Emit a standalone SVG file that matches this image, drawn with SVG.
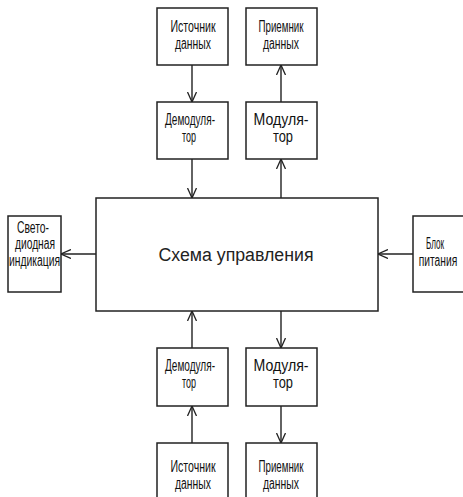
<svg xmlns="http://www.w3.org/2000/svg" width="463" height="497" viewBox="0 0 463 497">
<style>
.b{fill:#fff;stroke:#222;stroke-width:1.5}
.c{fill:none;stroke:#222;stroke-width:1.4}
.t{font-family:"Liberation Sans Narrow","Liberation Sans",Arial,sans-serif;font-size:16px;fill:#111;text-anchor:middle}
.m{font-family:"Liberation Sans",Arial,sans-serif;font-size:18px;fill:#222;text-anchor:middle}
</style>
<defs>
<marker id="a" viewBox="0 0 10 10" refX="10" refY="5" markerWidth="10" markerHeight="10" markerUnits="userSpaceOnUse" orient="auto">
<path d="M0,0.5 L10,5 L0,9.5" fill="none" stroke="#222" stroke-width="1.3"/>
</marker>
</defs>
<rect width="463" height="497" fill="#fff"/>
<g id="connectors">
<line class="c" x1="192" y1="65" x2="192" y2="102" marker-end="url(#a)"/>
<line class="c" x1="192" y1="159" x2="192" y2="198" marker-end="url(#a)"/>
<line class="c" x1="281" y1="102" x2="281" y2="65" marker-end="url(#a)"/>
<line class="c" x1="281" y1="198" x2="281" y2="159" marker-end="url(#a)"/>
<line class="c" x1="96" y1="254" x2="61" y2="254" marker-end="url(#a)"/>
<line class="c" x1="413" y1="254" x2="378" y2="254" marker-end="url(#a)"/>
<line class="c" x1="192" y1="348" x2="192" y2="311" marker-end="url(#a)"/>
<line class="c" x1="192" y1="443" x2="192" y2="406" marker-end="url(#a)"/>
<line class="c" x1="281" y1="311" x2="281" y2="348" marker-end="url(#a)"/>
<line class="c" x1="281" y1="406" x2="281" y2="443" marker-end="url(#a)"/>
</g>
<g id="main"><rect class="b" x="96" y="198" width="282" height="113"/>
<text class="m" x="236" y="261" textLength="155" lengthAdjust="spacingAndGlyphs">Схема управления</text></g>
<g id="src-top"><rect class="b" x="157" y="8" width="71" height="57"/>
<text class="t" x="193" y="32" textLength="45" lengthAdjust="spacingAndGlyphs">Источник</text>
<text class="t" x="193" y="49" textLength="36" lengthAdjust="spacingAndGlyphs">данных</text></g>
<g id="rcv-top"><rect class="b" x="246" y="8" width="71" height="57"/>
<text class="t" x="281" y="32" textLength="45" lengthAdjust="spacingAndGlyphs">Приемник</text>
<text class="t" x="281" y="49" textLength="36" lengthAdjust="spacingAndGlyphs">данных</text></g>
<g id="demod-top"><rect class="b" x="157" y="102" width="71" height="57"/>
<text class="t" x="190" y="125" textLength="50" lengthAdjust="spacingAndGlyphs">Демодуля-</text>
<text class="t" x="189" y="142" textLength="14" lengthAdjust="spacingAndGlyphs">тор</text></g>
<g id="mod-top"><rect class="b" x="246" y="102" width="71" height="57"/>
<text class="t" x="281" y="125" textLength="55" lengthAdjust="spacingAndGlyphs">Модуля-</text>
<text class="t" x="283" y="142" textLength="20" lengthAdjust="spacingAndGlyphs">тор</text></g>
<g id="led"><rect class="b" x="8" y="216" width="53" height="76"/>
<text class="t" x="33" y="233" textLength="32" lengthAdjust="spacingAndGlyphs">Свето-</text>
<text class="t" x="35" y="249" textLength="40" lengthAdjust="spacingAndGlyphs">диодная</text>
<text class="t" x="34.5" y="266" textLength="51" lengthAdjust="spacingAndGlyphs">индикация</text></g>
<g id="power"><path class="b" d="M464,216 H413 V292 H464"/>
<text class="t" x="435" y="249" textLength="18" lengthAdjust="spacingAndGlyphs">Блок</text>
<text class="t" transform="translate(438,266) scale(0.64,1)" x="0" y="0">питания</text></g>
<g id="demod-bot"><rect class="b" x="157" y="348" width="71" height="58"/>
<text class="t" x="190" y="371" textLength="50" lengthAdjust="spacingAndGlyphs">Демодуля-</text>
<text class="t" x="189" y="388" textLength="14" lengthAdjust="spacingAndGlyphs">тор</text></g>
<g id="mod-bot"><rect class="b" x="246" y="348" width="71" height="58"/>
<text class="t" x="281" y="371" textLength="55" lengthAdjust="spacingAndGlyphs">Модуля-</text>
<text class="t" x="283" y="388" textLength="20" lengthAdjust="spacingAndGlyphs">тор</text></g>
<g id="src-bot"><path class="b" d="M157,498 V443 H228 V498"/>
<text class="t" x="193" y="472" textLength="45" lengthAdjust="spacingAndGlyphs">Источник</text>
<text class="t" x="193" y="489" textLength="36" lengthAdjust="spacingAndGlyphs">данных</text></g>
<g id="rcv-bot"><path class="b" d="M246,498 V443 H317 V498"/>
<text class="t" x="281" y="472" textLength="45" lengthAdjust="spacingAndGlyphs">Приемник</text>
<text class="t" x="281" y="489" textLength="36" lengthAdjust="spacingAndGlyphs">данных</text></g>
</svg>
